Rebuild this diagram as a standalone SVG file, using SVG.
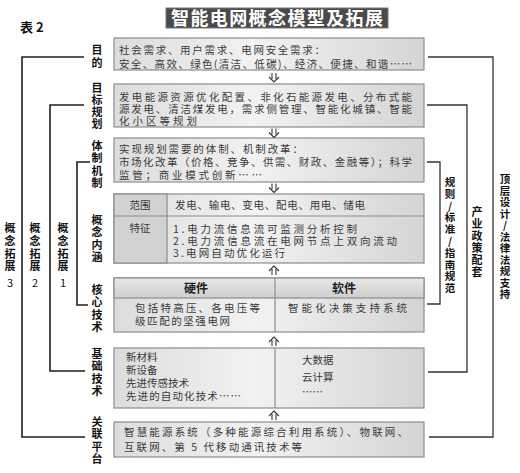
<svg xmlns="http://www.w3.org/2000/svg" width="520" height="473" viewBox="0 0 520 473">
<defs>
<linearGradient id="bg" x1="0" y1="0" x2="1" y2="0">
<stop offset="0" stop-color="#dcdcdc"/>
<stop offset="0.45" stop-color="#f2f2f2"/>
<stop offset="1" stop-color="#d4d4d4"/>
</linearGradient>
<linearGradient id="hg" x1="0" y1="0" x2="0" y2="1">
<stop offset="0" stop-color="#e8e8e8"/>
<stop offset="1" stop-color="#cfcfcf"/>
</linearGradient>
<g id="dn" fill="none" stroke="#333" stroke-width="1.1">
<path d="M-2,0 V6 M2,0 V6"/>
<path d="M-5,4 L0,9 L5,4"/>
</g>
<g id="up" fill="none" stroke="#333" stroke-width="1.1">
<path d="M-2,3 V9 M2,3 V9"/>
<path d="M-5,5 L0,0 L5,5"/>
</g>
</defs>
<style>
.box{fill:url(#bg);stroke:#8c8c8c;stroke-width:1.2}
.cell{fill:#d2d2d2;stroke:#8c8c8c;stroke-width:1.2}
.hdr{fill:url(#hg);stroke:#8c8c8c;stroke-width:1.2}
.div{stroke:#8c8c8c;stroke-width:1.2;fill:none}
.t{font-family:"Noto Sans CJK SC","Noto Sans",sans-serif;font-size:10.5px;fill:#3a3a3a}
.lb{font-family:"Noto Sans CJK SC","Noto Sans",sans-serif;font-size:11px;font-weight:700;fill:#111;text-anchor:middle}
.lbs{font-family:"Noto Sans CJK SC","Noto Sans",sans-serif;font-size:10.5px;font-weight:700;fill:#111;text-anchor:middle}
.hd{font-family:"Noto Sans CJK SC","Noto Sans",sans-serif;font-size:12px;font-weight:700;fill:#222;text-anchor:middle}
.br{fill:none;stroke:#1e1e1e;stroke-width:1.6}
.br2{fill:none;stroke:#333;stroke-width:1.3}
</style>
<rect width="520" height="473" fill="#fff"/>

<g id="title">
<rect x="166" y="8" width="222" height="20" fill="#4a4a4a" stroke="#777" stroke-width="1"/>
<text x="171" y="24.5" textLength="212" font-family="'Noto Sans CJK SC',sans-serif" font-size="18" font-weight="700" fill="#fff">智能电网概念模型及拓展</text>
</g>
<text id="table-no" x="20" y="32" font-family="'Noto Sans CJK SC',sans-serif" font-size="13" font-weight="700" fill="#111">表 2</text>

<g id="purpose">
<rect class="box" x="114" y="38" width="310" height="32"/>
<text class="t" x="119" y="54" textLength="206">社会需求、用户需求、电网安全需求：</text>
<text class="t" x="119" y="67.5" textLength="293">安全、高效、绿色(清洁、低碳)、经济、便捷、和谐……</text>
<text class="lb"><tspan x="97" y="54">目</tspan><tspan x="97" y="66.5">的</tspan></text>
</g>

<g id="goal">
<rect class="box" x="114" y="84" width="310" height="43"/>
<text class="t" x="119" y="100.5" textLength="293">发电能源资源优化配置、非化石能源发电、分布式能</text>
<text class="t" x="119" y="112.5" textLength="293">源发电、清洁煤发电，需求侧管理、智能化城镇、智能</text>
<text class="t" x="119" y="124.5" textLength="78">化小区等规划</text>
<text class="lb"><tspan x="97" y="92">目</tspan><tspan x="97" y="104">标</tspan><tspan x="97" y="116">规</tspan><tspan x="97" y="128">划</tspan></text>
</g>

<g id="mechanism">
<rect class="box" x="114" y="138" width="310" height="44"/>
<text class="t" x="119" y="153" textLength="184">实现规划需要的体制、机制改革：</text>
<text class="t" x="119" y="166" textLength="293">市场化改革（价格、竞争、供需、财政、金融等）；科学</text>
<text class="t" x="119" y="178.5" textLength="143">监管；商业模式创新……</text>
<text class="lb"><tspan x="97" y="150">体</tspan><tspan x="97" y="162.3">制</tspan><tspan x="97" y="174.6">机</tspan><tspan x="97" y="187">制</tspan></text>
</g>

<g id="connotation">
<rect class="box" x="114" y="194" width="310" height="69"/>
<rect class="cell" x="114" y="194" width="53" height="69"/>
<path class="div" d="M114,216 H424"/>
<text class="t" x="140" y="209" text-anchor="middle">范围</text>
<text class="t" x="175" y="209" textLength="190">发电、输电、变电、配电、用电、储电</text>
<text class="t" x="140" y="232" text-anchor="middle">特征</text>
<text class="t" x="173" y="233" textLength="184">1.电力流信息流可监测分析控制</text>
<text class="t" x="173" y="245" textLength="224">2.电力流信息流在电网节点上双向流动</text>
<text class="t" x="173" y="257" textLength="112">3.电网自动优化运行</text>
<text class="lb"><tspan x="97" y="224">概</tspan><tspan x="97" y="236.3">念</tspan><tspan x="97" y="248.6">内</tspan><tspan x="97" y="261">涵</tspan></text>
</g>

<g id="core-tech">
<rect class="box" x="114" y="278" width="310" height="54"/>
<rect class="hdr" x="114" y="278" width="310" height="20"/>
<path class="div" d="M275,278 V332"/>
<text class="hd" x="196" y="292.5">硬件</text>
<text class="hd" x="344" y="292.5">软件</text>
<text class="t" x="135" y="311.5" textLength="125">包括特高压、各电压等</text>
<text class="t" x="135" y="324.5" textLength="95">级匹配的坚强电网</text>
<text class="t" x="288" y="312" textLength="119">智能化决策支持系统</text>
<text class="lb"><tspan x="97" y="294">核</tspan><tspan x="97" y="306.3">心</tspan><tspan x="97" y="318.6">技</tspan><tspan x="97" y="331">术</tspan></text>
</g>

<g id="basic-tech">
<rect class="box" x="114" y="348" width="310" height="60"/>
<path class="div" d="M275,348 V408"/>
<text class="t" x="126" y="361">新材料</text>
<text class="t" x="126" y="374">新设备</text>
<text class="t" x="126" y="387">先进传感技术</text>
<text class="t" x="126" y="400" textLength="115">先进的自动化技术……</text>
<text class="t" x="302" y="364">大数据</text>
<text class="t" x="302" y="381">云计算</text>
<text class="t" x="302" y="396">……</text>
<text class="lb"><tspan x="97" y="358">基</tspan><tspan x="97" y="370.3">础</tspan><tspan x="97" y="382.6">技</tspan><tspan x="97" y="395">术</tspan></text>
</g>

<g id="platform">
<rect class="box" x="114" y="422" width="310" height="35"/>
<text class="t" x="124" y="436" textLength="284">智慧能源系统（多种能源综合利用系统）、物联网、</text>
<text class="t" x="124" y="450.5" textLength="178">互联网、第 5 代移动通讯技术等</text>
<text class="lb"><tspan x="97" y="426">关</tspan><tspan x="97" y="438.3">联</tspan><tspan x="97" y="450.6">平</tspan><tspan x="97" y="463">台</tspan></text>
</g>

<g id="ext-1">
<text class="lb"><tspan x="63" y="232">概</tspan><tspan x="63" y="244.8">念</tspan><tspan x="63" y="257.6">拓</tspan><tspan x="63" y="270.4">展</tspan><tspan x="63" y="286.5" font-weight="400">1</tspan></text>
</g>
<g id="ext-2">
<text class="lb"><tspan x="35" y="232">概</tspan><tspan x="35" y="244.8">念</tspan><tspan x="35" y="257.6">拓</tspan><tspan x="35" y="270.4">展</tspan><tspan x="35" y="286.5" font-weight="400">2</tspan></text>
</g>
<g id="ext-3">
<text class="lb"><tspan x="10" y="232">概</tspan><tspan x="10" y="244.8">念</tspan><tspan x="10" y="257.6">拓</tspan><tspan x="10" y="270.4">展</tspan><tspan x="10" y="286.5" font-weight="400">3</tspan></text>
</g>
<g id="rules">
<text class="lbs"><tspan x="450" y="186">规</tspan><tspan x="450" y="197.8">则</tspan><tspan x="450" y="209.6">/</tspan><tspan x="450" y="221.4">标</tspan><tspan x="450" y="233.2">准</tspan><tspan x="450" y="245">/</tspan><tspan x="450" y="256.8">指</tspan><tspan x="450" y="268.6">南</tspan><tspan x="450" y="280.4">规</tspan><tspan x="450" y="292.2">范</tspan></text>
</g>
<g id="policy">
<text class="lb"><tspan x="477" y="216">产</tspan><tspan x="477" y="228">业</tspan><tspan x="477" y="240">政</tspan><tspan x="477" y="252">策</tspan><tspan x="477" y="264">配</tspan><tspan x="477" y="276">套</tspan></text>
</g>
<g id="top-design">
<text class="lbs" font-size="10"><tspan x="505" y="183">顶</tspan><tspan x="505" y="194.5">层</tspan><tspan x="505" y="206">设</tspan><tspan x="505" y="217.5">计</tspan><tspan x="505" y="229">/</tspan><tspan x="505" y="240.5">法</tspan><tspan x="505" y="252">律</tspan><tspan x="505" y="263.5">法</tspan><tspan x="505" y="275">规</tspan><tspan x="505" y="286.5">支</tspan><tspan x="505" y="298">持</tspan></text>
</g>

<g id="connectors">
<use href="#dn" x="274" y="73"/>
<use href="#dn" x="274" y="128.5"/>
<use href="#dn" x="274" y="183.5"/>
<use href="#up" x="274" y="266"/>
<use href="#up" x="274" y="337"/>
<use href="#up" x="274" y="411"/>
<path class="br" d="M84,57 H22 V437 H85"/>
<path class="br" d="M84,105 H50 V371 H85"/>
<path class="br" d="M90,162 H77 V305 H88"/>
<path class="br2" d="M427,162 H440 V304 H427"/>
<path class="br2" d="M427,105 H467 V372 H428"/>
<path class="br2" d="M428,57 H493 V437 H429"/>
</g>
</svg>
